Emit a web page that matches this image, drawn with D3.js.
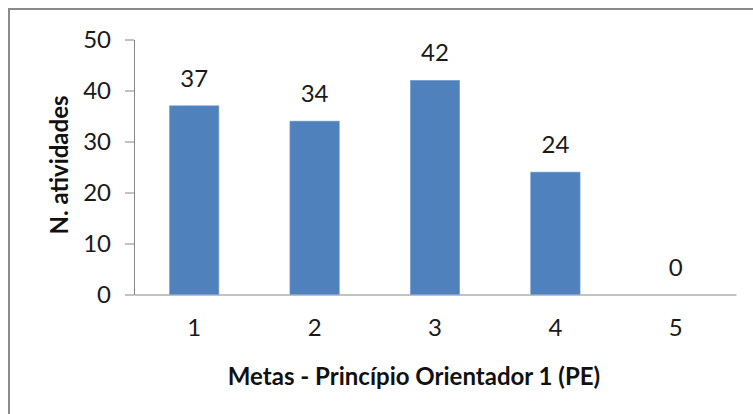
<!DOCTYPE html>
<html>
<head>
<meta charset="utf-8">
<script src="https://cdn.jsdelivr.net/npm/d3@7"></script>
<style>
  html, body { margin: 0; padding: 0; background: #fff; }
  svg { display: block; }
  text { font-family: Lato, "Open Sans", sans-serif; }
</style>
</head>
<body>
<svg id="chart" width="753" height="414"></svg>
<script>
// Atividades por meta
const categories = ["1", "2", "3", "4", "5"];
const values = [37, 34, 42, 24, 0];
const yTicks = [0, 10, 20, 30, 40, 50];
const xTitle = "Metas - Princípio Orientador 1 (PE)";
const yTitle = "N. atividades";

const svg = d3.select("#chart");
const W = 753, H = 414;
const plot = { left: 134, right: 736, top: 39.5, bottom: 294.5 };

// Chart frame
svg.append("rect")
  .attr("x", 9).attr("y", 9)
  .attr("width", W + 20).attr("height", H + 20)
  .attr("fill", "#fff")
  .attr("stroke", "#8a8a8a")
  .attr("stroke-width", 2);

const x = d3.scaleBand()
  .domain(categories)
  .range([plot.left, plot.right])
  .paddingInner(0.59)
  .paddingOuter(0.295);

const y = d3.scaleLinear()
  .domain([0, 50])
  .range([plot.bottom, plot.top]);

// Y axis
const yAxis = svg.append("g")
  .attr("transform", `translate(${plot.left},0)`)
  .call(d3.axisLeft(y).tickValues(yTicks).tickSize(9).tickPadding(14).tickSizeOuter(0));
yAxis.select(".domain").attr("stroke", "#868686");
yAxis.selectAll(".tick line").attr("stroke", "#868686");
yAxis.selectAll(".tick text")
  .attr("fill", "#1a1a1a")
  .style("font-size", "24px");

// X axis
const xAxis = svg.append("g")
  .attr("transform", `translate(0,${plot.bottom})`)
  .call(d3.axisBottom(x).tickSize(0).tickPadding(24).tickSizeOuter(0));
xAxis.select(".domain").attr("stroke", "#868686");
xAxis.selectAll(".tick text")
  .attr("fill", "#1a1a1a")
  .style("font-size", "24px");

// Bars
svg.append("g").selectAll("rect")
  .data(values)
  .join("rect")
  .attr("x", (d, i) => x(categories[i]))
  .attr("y", d => y(d))
  .attr("width", x.bandwidth())
  .attr("height", d => y(0) - y(d))
  .attr("fill", "#4f81bd")
  .attr("stroke", "#7aa0d4")
  .attr("stroke-width", 0.6);

// Value labels
svg.append("g").selectAll("text")
  .data(values)
  .join("text")
  .attr("x", (d, i) => x(categories[i]) + x.bandwidth() / 2)
  .attr("y", d => y(d) - 19)
  .attr("text-anchor", "middle")
  .attr("fill", "#1a1a1a")
  .style("font-size", "24px")
  .text(d => d);

// Axis titles
svg.append("text")
  .attr("x", 414).attr("y", 385)
  .attr("text-anchor", "middle")
  .attr("fill", "#111")
  .style("font-size", "24px")
  .style("font-weight", "bold")
  .text(xTitle);

svg.append("text")
  .attr("transform", `translate(68,${(plot.top + plot.bottom) / 2 - 2}) rotate(-90)`)
  .attr("text-anchor", "middle")
  .attr("fill", "#111")
  .style("font-size", "24px")
  .style("font-weight", "bold")
  .text(yTitle);
</script>
</body>
</html>
